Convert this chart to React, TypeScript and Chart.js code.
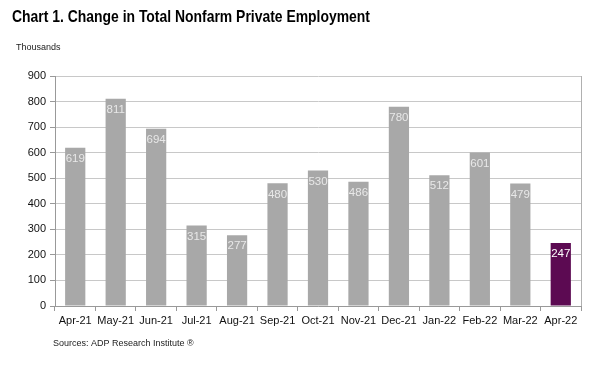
import React, { useEffect, useRef } from "react";
import { Chart, registerables } from "chart.js";

Chart.register(...registerables);

const categories = ["Apr-21", "May-21", "Jun-21", "Jul-21", "Aug-21", "Sep-21", "Oct-21", "Nov-21", "Dec-21", "Jan-22", "Feb-22", "Mar-22", "Apr-22"];
const values = [619, 811, 694, 315, 277, 480, 530, 486, 780, 512, 601, 479, 247];
const yTicks = [0, 100, 200, 300, 400, 500, 600, 700, 800, 900];
const title = "Chart 1. Change in Total Nonfarm Private Employment";
const unitLabel = "Thousands";
const sourceText = "Sources: ADP Research Institute \u00ae";

const GRAY = "#a8a8a8";
const PURPLE = "#5c0a52";
const FONT = "Liberation Sans, Arial, sans-serif";

const textPlugin = {
  id: "texts",
  afterDraw(chart: any) {
    const ctx = chart.ctx;
    const ca = chart.chartArea;
    ctx.save();
    // plot border (right)
    ctx.strokeStyle = "#b0b0b0";
    ctx.lineWidth = 1;
    ctx.beginPath();
    ctx.moveTo(Math.round(ca.right) + 0.5, ca.top);
    ctx.lineTo(Math.round(ca.right) + 0.5, ca.bottom);
    ctx.stroke();

    // bar value labels
    const meta = chart.getDatasetMeta(0);
    ctx.font = `11.5px ${FONT}`;
    ctx.textAlign = "center";
    ctx.textBaseline = "middle";
    meta.data.forEach((bar: any, i: number) => {
      ctx.fillStyle = i === values.length - 1 ? "#ffffff" : "#e8e8e8";
      ctx.fillText(String(values[i]), bar.x, bar.y + 11);
    });

    // title
    ctx.fillStyle = "#000";
    ctx.textAlign = "left";
    ctx.textBaseline = "alphabetic";
    ctx.font = `bold 17px ${FONT}`;
    const w = ctx.measureText(title).width;
    const target = 358;
    ctx.save();
    ctx.translate(12, 22);
    ctx.scale(target / w, 1);
    ctx.fillText(title, 0, 0);
    ctx.restore();

    ctx.fillStyle = "#222";
    ctx.font = `9px ${FONT}`;
    ctx.fillText(unitLabel, 16, 50);

    ctx.fillStyle = "#222";
    ctx.font = `9px ${FONT}`;
    ctx.fillText(sourceText, 53, 346);
    ctx.restore();
  },
};

export default function App() {
  const ref = useRef<HTMLCanvasElement>(null);
  useEffect(() => {
    document.body.style.margin = "0";
    const chart = new Chart(ref.current!, {
      type: "bar",
      data: {
        labels: categories,
        datasets: [
          {
            data: values,
            backgroundColor: values.map((_, i) => (i === values.length - 1 ? PURPLE : GRAY)),
            barPercentage: 0.5,
            categoryPercentage: 1,
          },
        ],
      },
      options: {
        animation: false,
        responsive: false,
        maintainAspectRatio: false,
        layout: { padding: { left: 0, right: 35, top: 76, bottom: 0 } },
        plugins: { legend: { display: false }, tooltip: { enabled: false }, title: { display: false } },
        scales: {
          x: {
            offset: true,
            grid: { offset: true, drawOnChartArea: false, color: "#999", tickLength: 5 },
            border: { color: "#999" },
            ticks: { color: "#111", font: { family: FONT, size: 11 }, padding: 3, maxRotation: 0, autoSkip: false },
            afterFit(scale: any) {
              scale.height = 60;
            },
          },
          y: {
            min: 0,
            max: 900,
            afterBuildTicks(scale: any) {
              scale.ticks = yTicks.map((v) => ({ value: v }));
            },
            grid: { color: "#c8c8c8", tickLength: 5, tickColor: "#999" },
            border: { color: "#999" },
            ticks: { color: "#111", font: { family: FONT, size: 11 }, padding: 4 },
            afterFit(scale: any) {
              scale.width = 55;
            },
          },
        },
      },
      plugins: [textPlugin],
    });
    return () => chart.destroy();
  }, []);
  return <canvas ref={ref} width={616} height={366} style={{ display: "block", width: 616, height: 366 }} />;
}
